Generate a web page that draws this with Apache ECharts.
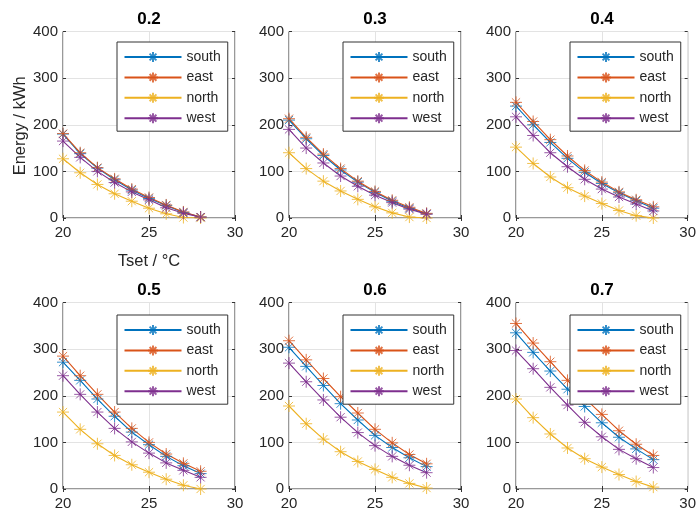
<!DOCTYPE html>
<html>
<head>
<meta charset="utf-8">
<script src="https://cdn.jsdelivr.net/npm/echarts@6/dist/echarts.min.js"></script>
<style>
html,body{margin:0;padding:0;background:#fff;}
#chart{width:699px;height:515px;}
</style>
</head>
<body>
<div id="chart"></div>
<script>
// ---- data ----
const tset = [20, 21, 22, 23, 24, 25, 26, 27, 28];
const panelTitles = ['0.2', '0.3', '0.4', '0.5', '0.6', '0.7'];
const seriesNames = ['south', 'east', 'north', 'west'];
const xTicks = [20, 25, 30];
const yTicks = [0, 100, 200, 300, 400];

const south_02 = [180, 138, 107, 82, 60, 42, 27, 12, 2];
const east_02  = [181, 140, 108, 84, 62, 44, 28, 13, 2];
const north_02 = [127, 97, 72, 52, 36, 21, 9, 1, 0];
const west_02  = [165, 130, 100, 76, 56, 39, 22, 10, 2];

const south_03 = [210, 170, 134, 103, 77, 55, 36, 21, 9];
const east_03  = [213, 173, 137, 106, 79, 57, 38, 23, 10];
const north_03 = [140, 106, 79, 58, 40, 24, 11, 2, 0];
const west_03  = [190, 150, 118, 90, 68, 49, 33, 19, 8];

const south_04 = [240, 200, 162, 128, 98, 74, 54, 37, 21];
const east_04  = [248, 207, 168, 133, 102, 77, 56, 39, 24];
const north_04 = [152, 117, 88, 65, 47, 31, 16, 5, 0];
const west_04  = [217, 177, 140, 110, 83, 62, 45, 30, 15];

const south_05 = [272, 233, 193, 156, 122, 95, 70, 50, 33];
const east_05  = [285, 243, 203, 165, 130, 100, 75, 55, 38];
const north_05 = [165, 128, 97, 72, 52, 36, 21, 8, 0];
const west_05  = [243, 203, 165, 130, 101, 77, 56, 40, 25];

const south_06 = [304, 263, 222, 183, 148, 115, 89, 67, 48];
const east_06  = [318, 277, 237, 198, 163, 128, 99, 74, 54];
const north_06 = [178, 140, 107, 80, 59, 42, 25, 12, 2];
const west_06  = [270, 230, 191, 154, 121, 93, 70, 51, 35];

const south_07 = [335, 293, 253, 214, 177, 142, 111, 86, 63];
const east_07  = [355, 313, 273, 233, 195, 160, 125, 96, 72];
const north_07 = [193, 153, 118, 88, 65, 47, 31, 16, 4];
const west_07  = [297, 258, 218, 180, 143, 112, 85, 65, 46];

const panelData = [
  [south_02, east_02, north_02, west_02],
  [south_03, east_03, north_03, west_03],
  [south_04, east_04, north_04, west_04],
  [south_05, east_05, north_05, west_05],
  [south_06, east_06, north_06, west_06],
  [south_07, east_07, north_07, west_07]
];

// ---- styling / layout ----
const colors = ['#0072BD', '#D95319', '#EDB120', '#7E2F8E'];
const FONT = "'Liberation Sans', Arial, Helvetica, sans-serif";
const TXT = '#262626';
const colLeft = [63, 289, 516];
const rowTop = [31.5, 302.5];
const gw = 172, gh = 186.5;
const legendTop = [42, 315];
const star = 'path://M5,0L5,10M0,5L10,5M1.6,1.6L8.4,8.4M8.4,1.6L1.6,8.4';

const grids = [], xAxes = [], yAxes = [], series = [], legends = [], graphics = [];

panelTitles.forEach((t, p) => {
  const c = p % 3, r = Math.floor(p / 3);
  const L = colLeft[c], T = rowTop[r];
  grids.push({left: L, top: T, width: gw, height: gh, show: true, borderColor: '#333', borderWidth: 1, backgroundColor: '#fff'});
  const xCommon = {
    type: 'value', gridIndex: p, min: xTicks[0], max: xTicks[xTicks.length - 1], interval: xTicks[1] - xTicks[0],
    axisLine: {show: false}
  };
  xAxes.push(Object.assign({}, xCommon, {
    position: 'bottom',
    axisTick: {show: true, inside: true, length: 3, lineStyle: {color: '#333'}},
    axisLabel: {show: true, fontSize: 15, fontFamily: FONT, color: TXT, margin: 7},
    splitLine: {show: true, lineStyle: {color: '#e3e3e3', width: 1}}
  }));
  xAxes.push(Object.assign({}, xCommon, {
    position: 'top',
    axisTick: {show: true, inside: true, length: 3, lineStyle: {color: '#333'}},
    axisLabel: {show: false},
    splitLine: {show: false}
  }));
  const yCommon = {
    type: 'value', gridIndex: p, min: yTicks[0], max: yTicks[yTicks.length - 1], interval: yTicks[1] - yTicks[0],
    axisLine: {show: false}
  };
  yAxes.push(Object.assign({}, yCommon, {
    position: 'left',
    axisTick: {show: true, inside: true, length: 3, lineStyle: {color: '#333'}},
    axisLabel: {show: true, fontSize: 15, fontFamily: FONT, color: TXT, margin: 5},
    splitLine: {show: true, lineStyle: {color: '#e3e3e3', width: 1}}
  }));
  yAxes.push(Object.assign({}, yCommon, {
    position: 'right',
    axisTick: {show: true, inside: true, length: 3, lineStyle: {color: '#333'}},
    axisLabel: {show: false},
    splitLine: {show: false}
  }));

  seriesNames.forEach((n, k) => {
    series.push({
      type: 'line', name: n, xAxisIndex: 2 * p, yAxisIndex: 2 * p,
      data: tset.map((x, i) => [x, panelData[p][k][i]]),
      symbol: star, symbolSize: 12, showSymbol: true,
      lineStyle: {color: colors[k], width: 1.1},
      itemStyle: {color: colors[k], borderColor: colors[k], borderWidth: 1, opacity: 0.8},
      emphasis: {disabled: true}, silent: true, z: 2
    });
  });

  legends.push({
    data: seriesNames, orient: 'vertical',
    left: L + gw - 8 - 110, top: legendTop[r],
    itemWidth: 57, itemHeight: 12.5, itemGap: 6.4,
    padding: [8, 7, 6, 6.5],
    backgroundColor: '#fff', borderColor: '#333', borderWidth: 1,
    textStyle: {fontSize: 14, fontFamily: FONT, color: TXT},
    selectedMode: false, z: 10
  });

  graphics.push({
    type: 'text', x: L + gw / 2, y: T - 11.8,
    style: {text: t, font: 'bold 17px ' + FONT, fill: '#000', align: 'center', verticalAlign: 'middle', textAlign: 'center', textVerticalAlign: 'middle'}
  });
});

graphics.push({
  type: 'text', x: 20, y: 125.8, rotation: Math.PI / 2,
  style: {text: 'Energy / kWh', font: '16.5px ' + FONT, fill: TXT, align: 'center', verticalAlign: 'middle', textAlign: 'center', textVerticalAlign: 'middle'}
});
graphics.push({
  type: 'text', x: colLeft[0] + gw / 2, y: 261.7,
  style: {text: 'Tset / °C', font: '16.5px ' + FONT, fill: TXT, align: 'center', verticalAlign: 'middle', textAlign: 'center', textVerticalAlign: 'middle'}
});

const chart = echarts.init(document.getElementById('chart'), null, {renderer: 'canvas'});
chart.setOption({
  animation: false,
  backgroundColor: '#fff',
  grid: grids, xAxis: xAxes, yAxis: yAxes, series: series, legend: legends, graphic: graphics
});
</script>
</body>
</html>
